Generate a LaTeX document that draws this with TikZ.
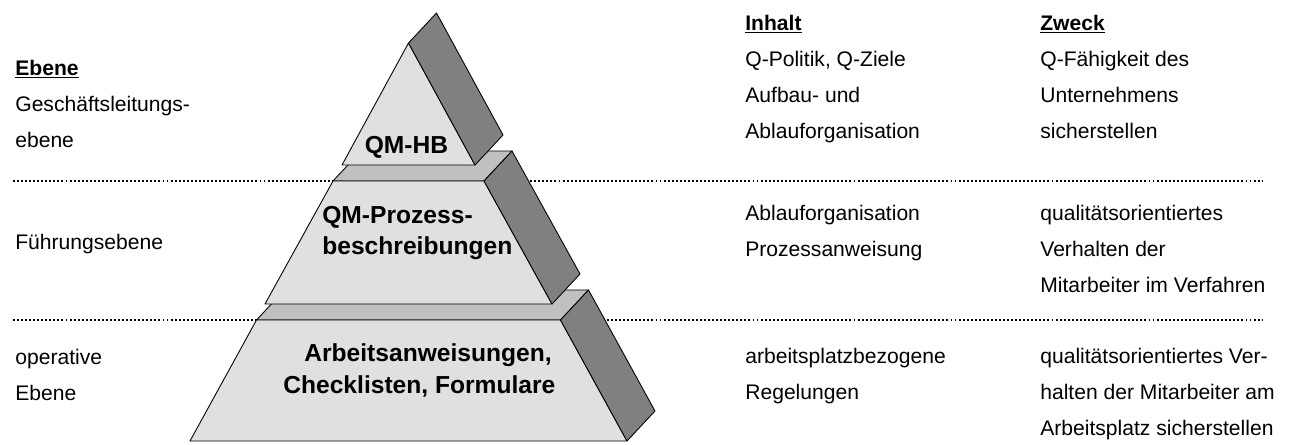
\documentclass[tikz,border=0pt]{standalone}
\usepackage{fontspec}
\setmainfont{Liberation Sans}
\usetikzlibrary{positioning}

\definecolor{frontgray}{RGB}{224,224,224}
\definecolor{topgray}{RGB}{192,192,192}
\definecolor{sidegray}{RGB}{128,128,128}

\begin{document}
\begin{tikzpicture}[
  x=0.02cm, y=-0.02cm,
  every node/.style={inner sep=0pt, font=\fontsize{12}{14}\selectfont},
  body/.style={anchor=base west},
  head/.style={anchor=base west, font=\fontsize{12}{14}\selectfont\bfseries},
  tierlabel/.style={anchor=base west, font=\fontsize{14}{17}\selectfont\bfseries},
  face/.style={draw=black, line width=0.5pt, line join=round},
  sepline/.style={line width=1.1pt, dash pattern=on 1.1pt off 1.2pt}
]
\useasboundingbox (0,0) rectangle (1296,444);

% ---- SEPARATORS (behind the pyramid) ----
\coordinate (sepA1) at (13,181);
\coordinate (sepA2) at (1262,181);
\coordinate (sepB1) at (13,320);
\coordinate (sepB2) at (1262,320);
\draw[sepline] (sepA1) -- (sepA2);
\draw[sepline] (sepB1) -- (sepB2);

% ---- PYRAMID: bottom tier ----
\draw[face, fill=topgray]   (256.5,320) -- (560.5,320) -- (588.5,290) -- (284.5,290) -- cycle;
\draw[face, fill=frontgray] (256.5,320) -- (560.5,320) -- (627,441) -- (190,441) -- cycle;
\draw[face, fill=sidegray]  (560.5,320) -- (588.5,290) -- (655,411) -- (627,441) -- cycle;

% ---- PYRAMID: middle tier ----
\draw[face, fill=topgray]   (333,181) -- (484,181) -- (512,151) -- (361,151) -- cycle;
\draw[face, fill=frontgray] (333,181) -- (484,181) -- (552,304) -- (265,304) -- cycle;
\draw[face, fill=sidegray]  (484,181) -- (512,151) -- (580,274) -- (552,304) -- cycle;

% ---- PYRAMID: top tier ----
\draw[face, fill=frontgray] (342,165) -- (475,165) -- (408.5,43) -- cycle;
\draw[face, fill=sidegray]  (408.5,43) -- (436.5,13) -- (503,135) -- (475,165) -- cycle;

% Tier labels
\node[tierlabel, anchor=base] (hb) at (406.5,153) {QM-HB};
\node[tierlabel] (proz1) at (322,223.5) {QM-Prozess-};
\node[tierlabel] (proz2) at (322,254) {beschreibungen};
\node[tierlabel] (arb1) at (304,361) {Arbeitsanweisungen,};
\node[tierlabel] (arb2) at (283,393) {Checklisten, Formulare};

% ---- LEFT COLUMN: Ebene ----
\node[head] (ebeneH) at (15,75) {\underline{Ebene}};
\node[body] (gl1) at (15,111) {Geschäftsleitungs-};
\node[body] (gl2) at (15,147) {ebene};
\node[body] (fue) at (15,249) {Führungsebene};
\node[body] (op1) at (15,364) {operative};
\node[body] (op2) at (15,400) {Ebene};

% ---- MIDDLE COLUMN: Inhalt ----
\node[head] (inhH) at (745,30) {\underline{Inhalt}};
\node[body] (inh1) at (745,66) {Q-Politik, Q-Ziele};
\node[body] (inh2) at (745,102) {Aufbau- und};
\node[body] (inh3) at (745,138) {Ablauforganisation};
\node[body] (inh4) at (745,220) {Ablauforganisation};
\node[body] (inh5) at (745,256) {Prozessanweisung};
\node[body] (inh6) at (745,363) {arbeitsplatzbezogene};
\node[body] (inh7) at (745,399) {Regelungen};

% ---- RIGHT COLUMN: Zweck ----
\node[head] (zwH) at (1040,30) {\underline{Zweck}};
\node[body] (zw1) at (1040,66) {Q-Fähigkeit des};
\node[body] (zw2) at (1040,102) {Unternehmens};
\node[body] (zw3) at (1040,138) {sicherstellen};
\node[body] (zw4) at (1040,220) {qualitätsorientiertes};
\node[body] (zw5) at (1040,256) {Verhalten der};
\node[body] (zw6) at (1040,292) {Mitarbeiter im Verfahren};
\node[body] (zw7) at (1040,363) {qualitätsorientiertes Ver-};
\node[body] (zw8) at (1040,399) {halten der Mitarbeiter am};
\node[body] (zw9) at (1040,435) {Arbeitsplatz sicherstellen};

\end{tikzpicture}
\end{document}
